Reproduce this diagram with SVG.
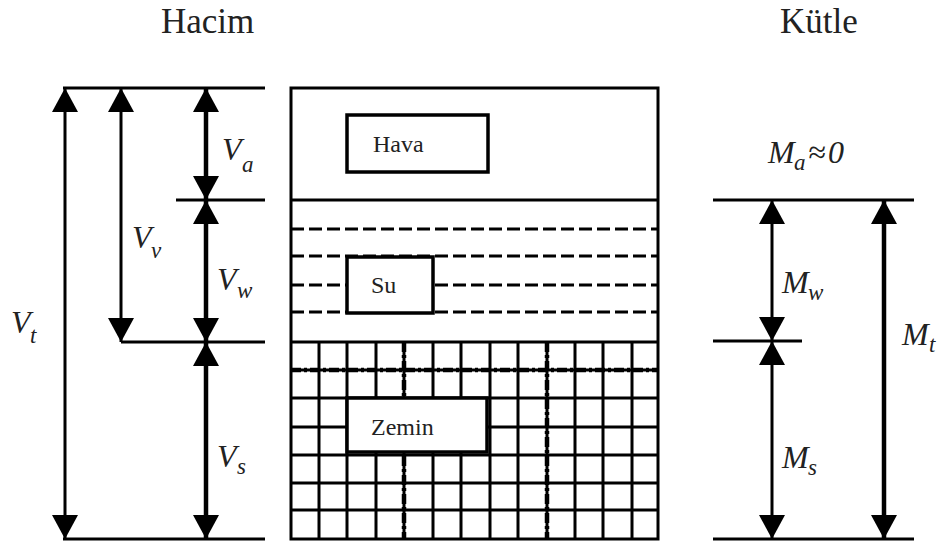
<svg xmlns="http://www.w3.org/2000/svg" width="948" height="546" viewBox="0 0 948 546">
<style>
.ln{stroke:#000;stroke-width:3;fill:none}
.dim{stroke:#000;fill:none}
.dash{stroke:#000;stroke-width:3;stroke-dasharray:13 5;fill:none}
.dd{stroke:#000;stroke-width:4.5;stroke-dasharray:10 3 3 3;fill:none}
.thin{stroke:#000;stroke-width:1.2;stroke-dasharray:4 6;fill:none}
.box{stroke:#000;stroke-width:3.5;fill:#fff}
.t{font-family:"Liberation Serif","Times New Roman",serif;fill:#222}
.lab{font-family:"Liberation Serif","Times New Roman",serif;font-style:italic;font-size:32px;fill:#222}
.sub{font-size:23px}
</style>
<defs>
<marker id="ah" viewBox="0 0 24 26" refX="24" refY="13" markerWidth="24" markerHeight="26" markerUnits="userSpaceOnUse" orient="auto-start-reverse">
<path d="M0,0 L24,13 L0,26 Z" fill="#000"/>
</marker>
</defs>

<text class="t" x="161" y="33" font-size="35">Hacim</text>
<text class="t" x="780" y="33" font-size="35">Kütle</text>

<g id="soil-column">
<rect class="ln" x="291" y="88" width="367" height="451"/>
<line class="ln" x1="291" y1="200" x2="658" y2="200"/>
<line class="ln" x1="291" y1="342" x2="658" y2="342"/>
<g id="water-dashes">
<line class="dash" x1="291" y1="229" x2="658" y2="229"/>
<line class="dash" x1="291" y1="256" x2="658" y2="256"/>
<line class="dash" x1="291" y1="285" x2="658" y2="285"/>
<line class="dash" x1="291" y1="312" x2="658" y2="312"/>
</g>
<g id="grid">
<path class="ln" d="M319,342V539M347,342V539M376,342V539M404,342V539M433,342V539M461,342V539M490,342V539M518,342V539M547,342V539M575,342V539M603,342V539M632,342V539"/>
<path class="ln" d="M291,370H658M291,398H658M291,427H658M291,455H658M291,483H658M291,510H658"/>
<path class="dd" d="M291,370H658M404,342V539M547,342V539"/>
<path class="thin" d="M347,342V539M291,427H658M291,510H658M461,342V539"/>
</g>
</g>

<g id="hava"><rect class="box" x="347" y="115" width="141" height="57"/><text class="t" x="373" y="152" font-size="24">Hava</text></g>
<g id="su"><rect class="box" x="347" y="257" width="86" height="56"/><text class="t" x="371" y="293" font-size="24">Su</text></g>
<g id="zemin"><rect class="box" x="347" y="398" width="140" height="54"/><text class="t" x="371" y="435" font-size="24">Zemin</text></g>

<g id="connectors">
<path class="ln" d="M63,88H265M176,200H265M121,342H265M63,539H265"/>
<path class="ln" d="M713,200H914M713,341H802M713,539H914"/>
<line class="dim" stroke-width="3" x1="65" y1="88" x2="65" y2="539" marker-start="url(#ah)" marker-end="url(#ah)"/>
<line class="dim" stroke-width="3" x1="121" y1="88" x2="121" y2="342" marker-start="url(#ah)" marker-end="url(#ah)"/>
<line class="dim" stroke-width="4.5" x1="206" y1="88" x2="206" y2="200" marker-start="url(#ah)" marker-end="url(#ah)"/>
<line class="dim" stroke-width="4.5" x1="206" y1="200" x2="206" y2="342" marker-start="url(#ah)" marker-end="url(#ah)"/>
<line class="dim" stroke-width="4.5" x1="206" y1="342" x2="206" y2="539" marker-start="url(#ah)" marker-end="url(#ah)"/>
<line class="dim" stroke-width="3" x1="772" y1="200" x2="772" y2="341" marker-start="url(#ah)" marker-end="url(#ah)"/>
<line class="dim" stroke-width="3" x1="772" y1="341" x2="772" y2="539" marker-start="url(#ah)" marker-end="url(#ah)"/>
<line class="dim" stroke-width="4.5" x1="884" y1="200" x2="884" y2="539" marker-start="url(#ah)" marker-end="url(#ah)"/>
</g>

<g id="labels">
<text class="lab" x="222" y="160">V<tspan class="sub" x="242" y="172">a</tspan></text>
<text class="lab" x="132" y="248">V<tspan class="sub" x="151" y="258">v</tspan></text>
<text class="lab" x="217" y="290">V<tspan class="sub" x="237" y="298">w</tspan></text>
<text class="lab" x="11" y="333">V<tspan class="sub" x="30" y="343">t</tspan></text>
<text class="lab" x="217" y="467">V<tspan class="sub" x="237" y="474">s</tspan></text>
<text class="lab" x="768" y="163">M<tspan class="sub" x="794" y="170">a</tspan><tspan x="808" y="163">≈</tspan><tspan x="828" y="163">0</tspan></text>
<text class="lab" x="782" y="293">M<tspan class="sub" x="808" y="300">w</tspan></text>
<text class="lab" x="902" y="345">M<tspan class="sub" x="929" y="352">t</tspan></text>
<text class="lab" x="782" y="468">M<tspan class="sub" x="808" y="475">s</tspan></text>
</g>
</svg>
